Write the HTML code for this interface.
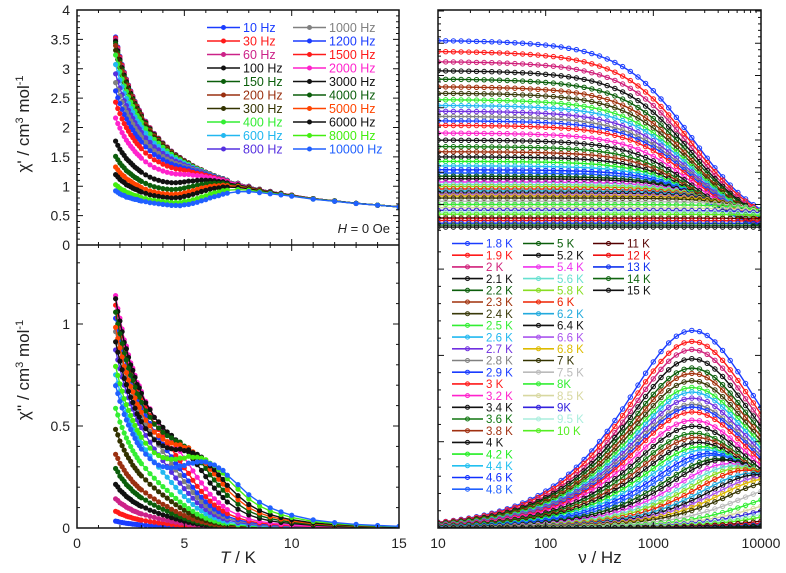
<!DOCTYPE html>
<html><head><meta charset="utf-8"><style>
body{margin:0;background:#fff;}
svg{display:block;font-family:"Liberation Sans",Arial,sans-serif;}
</style></head><body>
<svg id="chart" width="786" height="573" viewBox="0 0 786 573" xmlns="http://www.w3.org/2000/svg">
<defs>
<clipPath id="cLT"><rect x="77" y="10" width="322" height="235"/></clipPath>
<clipPath id="cLB"><rect x="77" y="245" width="322" height="283"/></clipPath>
<clipPath id="cRT"><rect x="438" y="10" width="323" height="226"/></clipPath>
<clipPath id="cRB"><rect x="438" y="236" width="323" height="292"/></clipPath>
</defs>
<g id="marks"></g>
<g id="axes"></g>
<g id="legends"></g>
<text transform="translate(29,124) rotate(-90)" text-anchor="middle" font-size="17" fill="#222">χ' / cm<tspan font-size="11" dy="-6">3</tspan><tspan dy="6"> mol</tspan><tspan font-size="11" dy="-6">-1</tspan></text>
<text transform="translate(29,370) rotate(-90)" text-anchor="middle" font-size="17" fill="#222">χ'' / cm<tspan font-size="11" dy="-6">3</tspan><tspan dy="6"> mol</tspan><tspan font-size="11" dy="-6">-1</tspan></text>
<text x="238" y="563" text-anchor="middle" font-size="17" fill="#222"><tspan font-style="italic">T</tspan> / K</text>
<text x="600" y="563" text-anchor="middle" font-size="17" fill="#222">ν / Hz</text>
<text x="390" y="233" text-anchor="end" font-size="13" fill="#222"><tspan font-style="italic">H</tspan> = 0 Oe</text>
</svg>
<script>
const temps=[1.8,1.9,2,2.1,2.2,2.3,2.4,2.5,2.6,2.7,2.8,2.9,3,3.2,3.4,3.6,3.8,4,4.2,4.4,4.6,4.8,5,5.2,5.4,5.6,5.8,6,6.2,6.4,6.6,6.8,7,7.5,8,8.5,9,9.5,10,11,12,13,14,15];
const chiT=[3.55,3.38,3.22,3.08,2.95,2.83,2.73,2.63,2.54,2.45,2.37,2.30,2.23,2.11,2.00,1.90,1.82,1.74,1.67,1.60,1.54,1.49,1.44,1.40,1.35,1.31,1.28,1.24,1.21,1.18,1.15,1.13,1.10,1.05,1.00,0.95,0.91,0.88,0.85,0.79,0.75,0.71,0.68,0.65];
const chiS=[0.50,0.50,0.51,0.51,0.52,0.52,0.53,0.53,0.54,0.54,0.55,0.55,0.55,0.55,0.55,0.55,0.55,0.54,0.53,0.52,0.51,0.50,0.50,0.49,0.49,0.49,0.49,0.49,0.50,0.50,0.50,0.51,0.52,0.53,0.55,0.55,0.55,0.55,0.55,0.55,0.55,0.55,0.55,0.55];
const alphas=[0.18,0.18,0.17,0.17,0.17,0.16,0.16,0.16,0.15,0.15,0.15,0.14,0.14,0.14,0.13,0.13,0.12,0.12,0.12,0.11,0.11,0.10,0.10,0.09,0.09,0.08,0.08,0.07,0.07,0.06,0.06,0.05,0.05,0.05,0.05,0.05,0.05,0.05,0.05,0.05,0.05,0.05,0.05,0.05];
const peakFreq=[2300,2300,2300,2300,2300,2300,2300,2310,2310,2310,2310,2320,2320,2340,2380,2430,2510,2630,2790,3000,3280,3600,4000,4500,5070,5750,6500,7370,8350,9430,10600,11900,13360,17370,22100,27500,33500,40000,47200,62800,79700,97600,116000,135000];
const tempColors=["#1a3cff","#ff1a1a","#d0207a","#111","#0b5e0b","#a0300a","#3a3a0a","#33ee33","#22b8f0","#7030e0","#808080","#1a3cff","#ff1a1a","#ff22cc","#111","#117711","#a03010","#111","#22ee22","#22c0f0","#1030ff","#2060ff","#0b5e0b","#111","#ee33ee","#66e0d0","#88dd22","#ee2200","#22aadd","#111","#aa55ee","#ddbb00","#333300","#bbbbbb","#33ee33","#d8d8a0","#3322dd","#aaeedd","#55ee22","#550000","#ee1111","#1133ee","#116611","#111"];
const tempLabels=["1.8 K","1.9 K","2 K","2.1 K","2.2 K","2.3 K","2.4 K","2.5 K","2.6 K","2.7 K","2.8 K","2.9 K","3 K","3.2 K","3.4 K","3.6 K","3.8 K","4 K","4.2 K","4.4 K","4.6 K","4.8 K","5 K","5.2 K","5.4 K","5.6 K","5.8 K","6 K","6.2 K","6.4 K","6.6 K","6.8 K","7 K","7.5 K","8K","8.5 K","9K","9.5 K","10 K","11 K","12 K","13 K","14 K","15 K"];
const freqs=[10,30,60,100,150,200,300,400,600,800,1000,1200,1500,2000,3000,4000,5000,6000,8000,10000];
const freqColors=["#1a3cff","#ff1a1a","#cc2288","#111","#0b5e0b","#9a3010","#333300","#33ee33","#22b8f0","#5530e0","#808080","#1a3cff","#ff1a1a","#ff22cc","#111","#0b5e0b","#ff4400","#111","#44ee11","#2060ff"];
const leftXTicks=[0,5,10,15];
const rightXTicks=[10,100,1000,10000];
const leftTopYTicks=["0","0.5","1","1.5","2","2.5","3","3.5","4"];
const leftBotYTicks=["0","0.5","1"];

const NS="http://www.w3.org/2000/svg";
function mk(tag,attrs,parent){const e=document.createElementNS(NS,tag);for(const k in attrs)e.setAttribute(k,attrs[k]);parent.appendChild(e);return e;}
const xL=T=>77+T*21.47;
const yLT=v=>245-v*58.75;
const yLB=v=>528-v*204;
const xR=f=>438+(Math.log10(f)-1)*107.67;
const yRT=v=>269-v*64.5;
const yRB=v=>528-v*172.6;
function model(i,f){
  const a=alphas[i],d=chiT[i]-chiS[i];
  const w=Math.pow(f/peakFreq[i],1-a);
  const s=Math.sin(a*Math.PI/2),c=Math.cos(a*Math.PI/2);
  const den=1+2*w*s+w*w;
  return [chiS[i]+d*(1+w*s)/den, d*w*c/den];
}
const marks=document.getElementById('marks');
const gLT=mk('g',{'clip-path':'url(#cLT)'},marks);


const gLB=mk('g',{'clip-path':'url(#cLB)'},marks);


const gRT=mk('g',{'clip-path':'url(#cRT)'},marks);


const gRB=mk('g',{'clip-path':'url(#cRB)'},marks);



freqs.forEach((f,j)=>{
  const col=freqColors[j];
  const p1=[],p2=[];
  temps.forEach((T,i)=>{const m=model(i,f);p1.push([xL(T),yLT(m[0])]);p2.push([xL(T),yLB(m[1])]);});
  [[gLT,p1,'chi-prime'],[gLB,p2,'chi-double-prime']].forEach(([g,pts,nm])=>{
    const s=mk('g',{},g);
    
    
    mk('polyline',{points:pts.map(p=>p[0].toFixed(1)+','+p[1].toFixed(1)).join(' '),fill:'none',stroke:col,'stroke-width':1.4},s);
    pts.forEach(p=>{mk('circle',{cx:p[0].toFixed(1),cy:p[1].toFixed(1),r:2.6,fill:col},s);});
  });
});
const fgrid=[];for(let k=0;k<=42;k++)fgrid.push(Math.pow(10,1+3*k/42));
temps.forEach((T,i)=>{
  const col=tempColors[i];
  const p1=[],p2=[];
  fgrid.forEach(f=>{const m=model(i,f);p1.push([xR(f),yRT(m[0])]);p2.push([xR(f),yRB(m[1])]);});
  [[gRT,p1,'chi-prime'],[gRB,p2,'chi-double-prime']].forEach(([g,pts,nm])=>{
    const s=mk('g',{},g);
    
    
    pts.forEach(p=>{mk('circle',{cx:p[0].toFixed(1),cy:p[1].toFixed(1),r:2.2,fill:'none',stroke:col,'stroke-width':1},s);});
    mk('polyline',{points:pts.map(p=>p[0].toFixed(1)+','+p[1].toFixed(1)).join(' '),fill:'none',stroke:col,'stroke-width':1.4},s);
  });
});

const ax=document.getElementById('axes');
function line(x1,y1,x2,y2,w){mk('line',{x1,y1,x2,y2,stroke:'#111','stroke-width':w||1},ax);}
function txt(x,y,s,anchor,name){const t=mk('text',{x,y,'text-anchor':anchor,'font-size':14,fill:'#222'},ax);t.textContent=s;}
[[77,399],[438,761]].forEach(([x0,x1],k)=>{
  const r=mk('rect',{x:x0,y:10,width:x1-x0,height:518,fill:'none',stroke:'#111','stroke-width':1.5},ax);
  
  
  if(k===0)line(x0,245,x1,245,1.5);
});
for(let T=0;T<=15;T++){const x=xL(T),L=(T%5===0)?6:3;
  line(x,10,x,10+L);line(x,245-L,x,245+L);line(x,528,x,528-L);}
leftXTicks.forEach(T=>txt(xL(T),548,String(T),'middle','x-tick-label-left'));
for(let d=1;d<4;d++){for(let m=1;m<10;m++){const f=m*Math.pow(10,d);const x=xR(f),L=m===1?6:3;
  line(x,10,x,10+L);line(x,528,x,528-L);}}
rightXTicks.forEach(f=>txt(xR(f),548,String(f),'middle','x-tick-label-right'));
for(let k=0;k<=40;k++){const v=k/10,y=yLT(v),L=(k%5===0)?6:3;if(y<10)continue;line(77,y,77+L,y);line(399,y,399-L,y);}
leftTopYTicks.forEach(s=>txt(70,yLT(parseFloat(s))+5,s,'end','y-tick-label-top'));
for(let k=0;k<=13;k++){const v=k/10,y=yLB(v),L=(k%5===0)?6:3;if(y<245)continue;line(77,y,77+L,y);line(399,y,399-L,y);}
leftBotYTicks.forEach(s=>txt(70,yLB(parseFloat(s))+5,s,'end','y-tick-label-bottom'));
for(let k=6;k<=40;k++){const v=k/10,y=yRT(v),L=(k%5===0)?6:3;if(y<10||y>234)continue;line(438,y,438+L,y);line(761,y,761-L,y);}
for(let k=0;k<=16;k++){const v=k/10,y=yRB(v),L=(k%5===0)?6:3;if(y<240)continue;line(438,y,438+L,y);line(761,y,761-L,y);}

const lg=document.getElementById('legends');
freqs.forEach((f,j)=>{
  const col=j<10?0:1,row=j%10;
  const x0=col===0?207:293,y=27.5+row*13.5;
  const g=mk('g',{},lg);
  
  
  mk('line',{x1:x0,y1:y,x2:x0+33,y2:y,stroke:freqColors[j],'stroke-width':1.6},g);
  mk('circle',{cx:x0+16.5,cy:y,r:2.5,fill:freqColors[j]},g);
  const t=mk('text',{x:x0+36,y:y+4.5,'font-size':12.5,fill:freqColors[j]},g);
  t.textContent=f+' Hz';
});
temps.forEach((T,i)=>{
  let col,row;
  if(i<22){col=0;row=i;}else if(i<39){col=1;row=i-22;}else{col=2;row=i-39;}
  const x0=[452,523,593][col],y=243.5+row*11.7;
  const g=mk('g',{},lg);
  
  
  mk('line',{x1:x0,y1:y,x2:x0+31,y2:y,stroke:tempColors[i],'stroke-width':1.6},g);
  mk('circle',{cx:x0+15.5,cy:y,r:2,fill:'none',stroke:tempColors[i],'stroke-width':1},g);
  const t=mk('text',{x:x0+34,y:y+4.2,'font-size':11.5,fill:tempColors[i]},g);
  t.textContent=tempLabels[i];
});
</script>
</body></html>
